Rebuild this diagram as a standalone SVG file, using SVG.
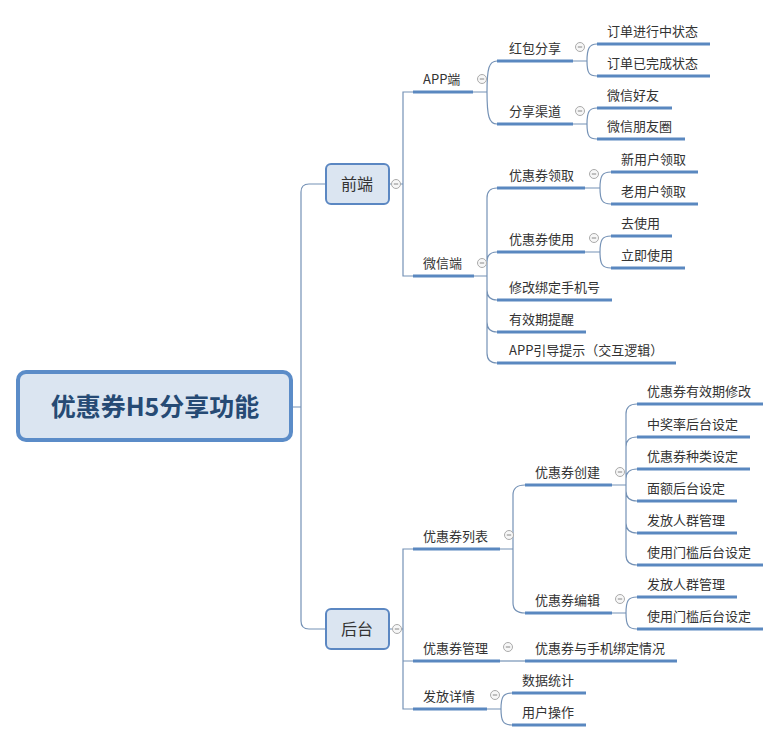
<svg xmlns="http://www.w3.org/2000/svg" width="781" height="742" viewBox="0 0 781 742">
<style>
.t{font-family:"Microsoft YaHei","Noto Sans CJK SC","Noto Sans",sans-serif;font-size:13px;fill:#333}
.ul{stroke:#5a88c0;stroke-width:3;fill:none}
.c{stroke:#7592b6;stroke-width:1.2;fill:none}
.box{fill:#dbe5f1;stroke:#5b87c2;stroke-width:2}
.mt{font-family:"Microsoft YaHei","Noto Sans CJK SC","Noto Sans",sans-serif;font-size:16px;fill:#333;text-anchor:middle}
</style>
<defs>
<g id="col"><circle r="4.5" fill="#f7f7f7" stroke="#aaa" stroke-width="1"/><line x1="-2.2" y1="0" x2="2.2" y2="0" stroke="#888" stroke-width="1"/></g>
</defs>
<rect width="781" height="742" fill="#fff"/>
<g id="connectors" class="c">
<path d="M291,407 H301 M301,407 V192 Q301,184 309,184 H326 M301,407 V621 Q301,629 309,629 H326"/>
<path d="M389,184 H391.5 M400.5,184 H403 M413,92 H403 V276 H413"/>
<path d="M473,92 H487 M487,92 C487,68 489,61 497,61 M487,92 C487,116 489,124 497,124"/>
<path d="M573,61 H587 M587,61 C587,49 589,44 597,44 M587,61 C587,73 589,76 597,76"/>
<path d="M573,124 H587 M587,124 C587,112 589,108 597,108 M587,124 C587,136 589,139 597,139"/>
<path d="M474,276 H487 M487,276 V198 Q487,188 497,188 M487,276 V262 Q487,252 497,252 M487,276 V290 Q487,300 497,300 M487,276 V322 Q487,332 497,332 M487,276 V353 Q487,363 497,363"/>
<path d="M585,188 H600 M600,188 C600,176 602,172 611,172 M600,188 C600,200 602,204 611,204"/>
<path d="M585,252 H600 M600,252 C600,240 602,236 611,236 M600,252 C600,264 602,268 611,268"/>
<path d="M389,629 H392.5 M401.5,629 H403 M413,549 H403 V709 H413 M413,661 H403"/>
<path d="M500,549 H513 M513,549 V495 Q513,485 525,485 M513,549 V603 Q513,613 525,613"/>
<path d="M612,485 H626 M626,485 V414 Q626,404 637,404 M626,485 V447 Q626,437 637,437 M626,485 V479 Q626,469 637,469 M626,485 V491 Q626,501 637,501 M626,485 V523 Q626,533 637,533 M626,485 V555 Q626,565 637,565"/>
<path d="M612,613 H626 M626,613 C626,601 628,597 637,597 M626,613 C626,625 628,629 637,629"/>
<path d="M500,661 H525"/>
<path d="M487,709 H501 M501,709 C501,697 503,693 512,693 M501,709 C501,721 503,725 512,725"/>
</g>
<g id="root">
<rect x="18" y="372" width="273" height="68" rx="8" fill="#dbe5f1" stroke="#5b8cc8" stroke-width="4"/>
<text x="155" y="416" text-anchor="middle" font-family="Microsoft YaHei,Noto Sans CJK SC,sans-serif" font-size="25" font-weight="bold" fill="#264a74">优惠券H5分享功能</text>
</g>
<g id="n-qianduan"><rect class="box" x="326" y="164" width="63" height="40" rx="5"/><text class="mt" x="357" y="190">前端</text><use href="#col" x="396" y="184"/></g>
<g id="n-houtai"><rect class="box" x="326" y="609" width="63" height="40" rx="5"/><text class="mt" x="357" y="635">后台</text><use href="#col" x="397" y="629"/></g>
<g id="n-app"><path class="ul" d="M413,92 H473"/><text class="t" x="423" y="84">APP端</text><use href="#col" x="482" y="79"/></g>
<g id="n-hongbao"><path class="ul" d="M497,61 H573"/><text class="t" x="509" y="53">红包分享</text><use href="#col" x="580" y="47"/></g>
<g id="n-dd1"><path class="ul" d="M597,44 H710"/><text class="t" x="607" y="36">订单进行中状态</text></g>
<g id="n-dd2"><path class="ul" d="M597,76 H710"/><text class="t" x="607" y="68">订单已完成状态</text></g>
<g id="n-qudao"><path class="ul" d="M497,124 H573"/><text class="t" x="509" y="116">分享渠道</text><use href="#col" x="580" y="111"/></g>
<g id="n-wxhy"><path class="ul" d="M597,108 H672"/><text class="t" x="607" y="100">微信好友</text></g>
<g id="n-wxpyq"><path class="ul" d="M597,139 H685"/><text class="t" x="607" y="131">微信朋友圈</text></g>
<g id="n-wx"><path class="ul" d="M413,276 H474"/><text class="t" x="423" y="268">微信端</text><use href="#col" x="482" y="263"/></g>
<g id="n-lq"><path class="ul" d="M497,188 H585"/><text class="t" x="509" y="180">优惠券领取</text><use href="#col" x="594" y="174"/></g>
<g id="n-xyh"><path class="ul" d="M611,172 H698"/><text class="t" x="621" y="164">新用户领取</text></g>
<g id="n-lyh"><path class="ul" d="M611,204 H698"/><text class="t" x="621" y="196">老用户领取</text></g>
<g id="n-sy"><path class="ul" d="M497,252 H585"/><text class="t" x="509" y="244">优惠券使用</text><use href="#col" x="594" y="238"/></g>
<g id="n-qsy"><path class="ul" d="M611,236 H672"/><text class="t" x="621" y="228">去使用</text></g>
<g id="n-ljsy"><path class="ul" d="M611,268 H685"/><text class="t" x="621" y="260">立即使用</text></g>
<g id="n-xg"><path class="ul" d="M497,300 H612"/><text class="t" x="509" y="292">修改绑定手机号</text></g>
<g id="n-yxq"><path class="ul" d="M497,332 H586"/><text class="t" x="509" y="324">有效期提醒</text></g>
<g id="n-yd"><path class="ul" d="M497,363 H676"/><text class="t" x="509" y="355">APP引导提示（交互逻辑）</text></g>
<g id="n-lb"><path class="ul" d="M413,549 H500"/><text class="t" x="423" y="541">优惠券列表</text><use href="#col" x="509" y="535"/></g>
<g id="n-cj"><path class="ul" d="M525,485 H612"/><text class="t" x="535" y="477">优惠券创建</text><use href="#col" x="620" y="472"/></g>
<g id="n-c1"><path class="ul" d="M637,404 H763"/><text class="t" x="647" y="396">优惠券有效期修改</text></g>
<g id="n-c2"><path class="ul" d="M637,437 H750"/><text class="t" x="647" y="429">中奖率后台设定</text></g>
<g id="n-c3"><path class="ul" d="M637,469 H750"/><text class="t" x="647" y="461">优惠券种类设定</text></g>
<g id="n-c4"><path class="ul" d="M637,501 H737"/><text class="t" x="647" y="493">面额后台设定</text></g>
<g id="n-c5"><path class="ul" d="M637,533 H737"/><text class="t" x="647" y="525">发放人群管理</text></g>
<g id="n-c6"><path class="ul" d="M637,565 H763"/><text class="t" x="647" y="557">使用门槛后台设定</text></g>
<g id="n-bj"><path class="ul" d="M525,613 H612"/><text class="t" x="535" y="605">优惠券编辑</text><use href="#col" x="620" y="599"/></g>
<g id="n-e1"><path class="ul" d="M637,597 H737"/><text class="t" x="647" y="589">发放人群管理</text></g>
<g id="n-e2"><path class="ul" d="M637,629 H763"/><text class="t" x="647" y="621">使用门槛后台设定</text></g>
<g id="n-gl"><path class="ul" d="M413,661 H500"/><text class="t" x="423" y="653">优惠券管理</text><use href="#col" x="508" y="647"/></g>
<g id="n-bd"><path class="ul" d="M525,661 H677"/><text class="t" x="535" y="653">优惠券与手机绑定情况</text></g>
<g id="n-ff"><path class="ul" d="M413,709 H487"/><text class="t" x="423" y="701">发放详情</text><use href="#col" x="495" y="695"/></g>
<g id="n-sj"><path class="ul" d="M512,693 H586"/><text class="t" x="522" y="685">数据统计</text></g>
<g id="n-yh"><path class="ul" d="M512,725 H586"/><text class="t" x="522" y="717">用户操作</text></g>
</svg>
